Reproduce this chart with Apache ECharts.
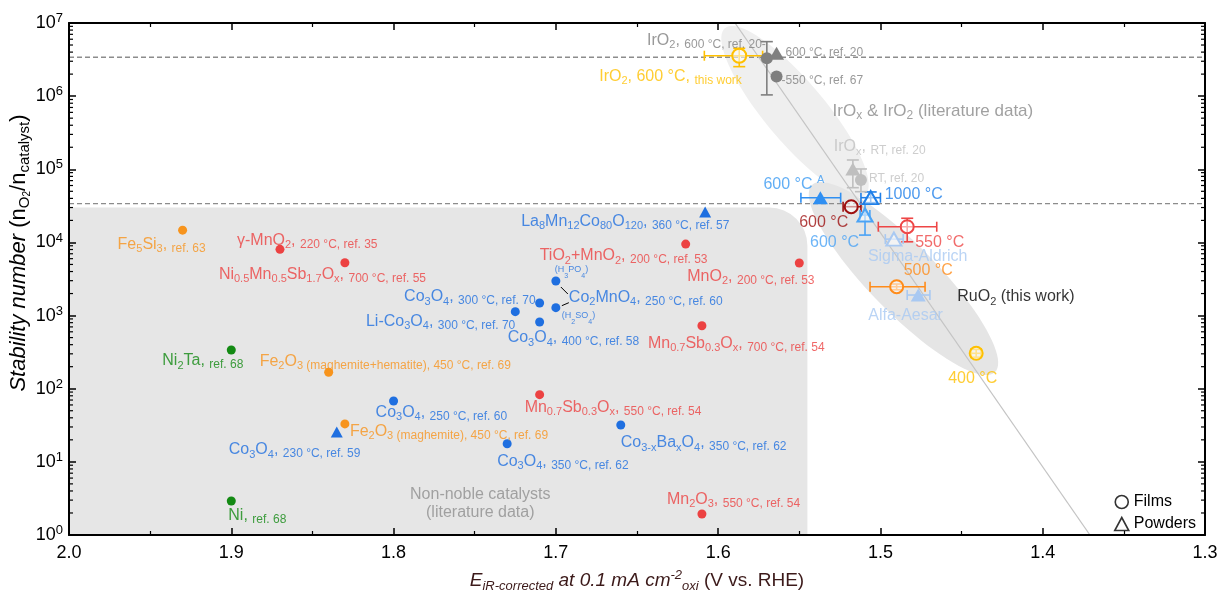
<!DOCTYPE html>
<html><head><meta charset="utf-8">
<script src="https://cdn.jsdelivr.net/npm/echarts@6/dist/echarts.min.js"></script>
<style>html,body{margin:0;padding:0;background:#fff}#c{width:1225px;height:595px}</style>
</head><body><div id="c"></div>
<script>
// ================= DATA =================
// Axis ticks
const xTicks = [2.0, 1.9, 1.8, 1.7, 1.6, 1.5, 1.4, 1.3];
const yDecades = [1, 10, 100, 1e3, 1e4, 1e5, 1e6, 1e7];

// Non-noble catalysts (literature data)
const nnNames = ['Fe5Si3','γ-MnO2','Ni0.5Mn0.5Sb1.7Ox','Ni2Ta','Fe2O3 (maghemite+hematite)','Ni','Co3O4 230 °C','Fe2O3 (maghemite)','Co3O4 250 °C','Mn0.7Sb0.3Ox 550 °C','Co3O4 350 °C','Co3-xBaxO4','Mn2O3','Co3O4 300 °C','Li-Co3O4','Co3O4 400 °C','Co2MnO4 (H3PO4)','Co2MnO4 (H2SO4)','La8Mn12Co80O120','TiO2+MnO2','MnO2 200 °C','Mn0.7Sb0.3Ox 700 °C'];
const nnFamily = ['Fe','Mn','Mn','Ni','Fe','Ni','Co','Fe','Co','Mn','Co','Co','Mn','Co','Co','Co','Co','Co','Co','Mn','Mn','Mn'];
const nnForm = ['film','film','film','film','film','film','powder','film','film','film','film','film','film','film','film','film','film','film','powder','film','film','film'];
const nnE = [1.930,1.870,1.830,1.900,1.840,1.900,1.835,1.830,1.800,1.710,1.730,1.660,1.610,1.710,1.725,1.710,1.700,1.700,1.608,1.620,1.550,1.610];
const nnS = [1.47e4,8.05e3,5.28e3,338,168,2.92,25.6,33,68,83,17.7,31.9,1.94,1486,1130,817,2970,1282,2.61e4,9.5e3,5.24e3,727];

// RuO2 (this work)
const ruNames = ['600 °C (A) powder','600 °C film','1000 °C powder','600 °C powder','550 °C film','Sigma-Aldrich','500 °C film','Alfa-Aesar','400 °C film'];
const ruForm = ['powder','film','powder','powder','film','powder','film','powder','film'];
const ruE = [1.537,1.518,1.506,1.5095,1.4835,1.4917,1.490,1.4767,1.441];
const ruS = [4.09e4,3.08e4,4.09e4,2.37e4,1.64e4,1.11e4,2.48e3,1.91e3,305];
const ruEmin = [1.5245,1.512,1.500,1.5065,1.4653,1.486,1.4725,1.4695,1.438];
const ruEmax = [1.549,1.523,1.512,1.5125,1.5013,1.497,1.5064,1.4835,1.444];
const ruSmin = [null,null,3.5e4,1.26e4,1.02e4,null,2.25e3,null,270];
const ruSmax = [null,null,4.9e4,3.35e4,2.14e4,null,2.7e3,null,345];

// IrO2 / IrOx
const irNames = ['IrO2 600 °C this work','IrO2 600 °C ref. 20 film','IrO2 600 °C ref. 20 powder','IrO2 550 °C ref. 67','IrOx RT ref. 20 powder','IrOx RT ref. 20 film'];
const irForm = ['film','film','powder','film','powder','film'];
const irE = [1.587,1.570,1.564,1.564,1.517,1.512];
const irS = [3.57e6,3.29e6,3.85e6,1.85e6,1.01e5,7.13e4];
const irEmin = [1.5726,null,null,null,null,null];
const irEmax = [1.6085,null,null,null,null,null];
const irSmin = [2.53e6,1.04e6,null,null,5.6e4,4.94e4];
const irSmax = [4.51e6,5.56e6,null,null,1.34e5,1.01e5];

// reference levels (dashed) and trend line
const refLevels = [3.4e6, 3.4e4];
const trendE = [1.5896, 1.3709];
const trendS = [1e7, 1];

// shaded regions (data space)
const nonNobleRegion = {eMin: 1.545, sMax: 3.0e4};
const irRegionEnds = [[1.5958, 8.5e6], [1.5095, 4.45e4]];
const ruRegionEnds = [[1.5422, 6.1e4], [1.4294, 169]];

// ================= STYLE =================
const F = '"Liberation Sans", Arial, Helvetica, sans-serif';
const famColor = {Fe:'#f7941d', Mn:'#ec4242', Co:'#1f6fe0', Ni:'#138a13'};
const ruColor = ['#2f8ff2','#9e1010','#1f7fe8','#4ba3f5','#ee4646','#a9c9f2','#ff8c1a','#a9c9f2','#ffc000'];
const ruFilled = [true,false,false,false,false,false,false,true,false];
const irColor = ['#ffc000','#7f7f7f','#7f7f7f','#7f7f7f','#bfbfbf','#bfbfbf'];
const irFilled = [false,true,true,true,true,true];

const RICH = {
  m:{fontSize:16, lineHeight:20, fontFamily:F},
  s:{fontSize:12, lineHeight:17, verticalAlign:'bottom', fontFamily:F},
  b:{fontSize:11, lineHeight:9, verticalAlign:'bottom', fontFamily:F},
  p:{fontSize:11, lineHeight:9, verticalAlign:'top', fontFamily:F},
  L:{fontSize:17, lineHeight:20, fontFamily:F},
  Lb:{fontSize:12, lineHeight:9, verticalAlign:'bottom', fontFamily:F},
  t:{fontSize:9, lineHeight:20, fontFamily:F},
  tb:{fontSize:7, lineHeight:15, verticalAlign:'bottom', fontFamily:F},
  g:{fontSize:16, lineHeight:18, fontFamily:F}
};

// labels: [group, index, text, dx, dy, align, color]
const co34 = (t) => '{m|Co}{b|3}{m|O}{b|4}{m|, }{s|' + t + '}';
const LABELS = [
  ['nn',0,'{m|Fe}{b|5}{m|Si}{b|3}{m|, }{s|ref. 63}',-65,14,'left'],
  ['nn',1,'{m|γ-MnO}{b|2}{m|, }{s|220 °C, ref. 35}',-43,-9,'left'],
  ['nn',2,'{m|Ni}{b|0.5}{m|Mn}{b|0.5}{m|Sb}{b|1.7}{m|O}{b|x}{m|, }{s|700 °C, ref. 55}',-126,12,'left'],
  ['nn',3,'{m|Ni}{b|2}{m|Ta, }{s|ref. 68}',-69,11,'left'],
  ['nn',4,'{m|Fe}{b|2}{m|O}{b|3}{s| (maghemite+hematite), 450 °C, ref. 69}',-69,-11,'left'],
  ['nn',5,'{m|Ni, }{s|ref. 68}',-3,15,'left'],
  ['nn',6,co34('230 °C, ref. 59'),-108,18,'left'],
  ['nn',7,'{m|Fe}{b|2}{m|O}{b|3}{s| (maghemite), 450 °C, ref. 69}',5,8,'left'],
  ['nn',8,co34('250 °C, ref. 60'),-18,12,'left'],
  ['nn',9,'{m|Mn}{b|0.7}{m|Sb}{b|0.3}{m|O}{b|x}{m|, }{s|550 °C, ref. 54}',-15,13,'left'],
  ['nn',10,co34('350 °C, ref. 62'),-10,18,'left'],
  ['nn',11,'{m|Co}{b|3-x}{m|Ba}{b|x}{m|O}{b|4}{m|, }{s|350 °C, ref. 62}',0,18,'left'],
  ['nn',12,'{m|Mn}{b|2}{m|O}{b|3}{m|, }{s|550 °C, ref. 54}',-35,-14,'left'],
  ['nn',13,co34('300 °C, ref. 70'),-4,-6,'right'],
  ['nn',14,'{m|Li-Co}{b|3}{m|O}{b|4}{m|, }{s|300 °C, ref. 70}',0,10,'right'],
  ['nn',15,co34('400 °C, ref. 58'),-32,16,'left'],
  ['nn',16,'{t|(H}{tb|3}{t|PO}{tb|4}{t|)}',-1,-11,'left'],
  ['nn',17,'{t|(H}{tb|2}{t|SO}{tb|4}{t|)}',6,8,'left'],
  ['nn',17,'{m|Co}{b|2}{m|MnO}{b|4}{m|, }{s|250 °C, ref. 60}',13,-10,'left'],
  ['nn',18,'{m|La}{b|8}{m|Mn}{b|12}{m|Co}{b|80}{m|O}{b|120}{m|, }{s|360 °C, ref. 57}',-184,10,'left'],
  ['nn',19,'{m|TiO}{b|2}{m|+MnO}{b|2}{m|, }{s|200 °C, ref. 53}',-146,12,'left'],
  ['nn',20,'{m|MnO}{b|2}{m|, }{s|200 °C, ref. 53}',-112,14,'left'],
  ['nn',21,'{m|Mn}{b|0.7}{m|Sb}{b|0.3}{m|O}{b|x}{m|, }{s|700 °C, ref. 54}',-54,18,'left'],
  ['nn',5,'{g|Non-noble catalysts}\n{g|(literature data)}',249,3,'center','#8f8f8f'],
  ['ru',0,'{m|600 °C }{p|A}',-57,-13,'left','#3a9af3'],
  ['ru',2,'{m|1000 °C}',14,-3,'left','#1f80ea'],
  ['ru',1,'{m|600 °C}',-52,16,'left','#9e1010'],
  ['ru',3,'{m|600 °C}',-55,28,'left','#4aa3f5'],
  ['ru',4,'{m|550 °C}',8,16,'left','#ee4646'],
  ['ru',5,'{m|Sigma-Aldrich}',-26,17,'left','#a9c9f2'],
  ['ru',6,'{m|500 °C}',7,-16,'left','#ff8c1a'],
  ['ru',7,'{m|Alfa-Aesar}',-50,21,'left','#a9c9f2'],
  ['ru',8,'{m|400 °C}',-28,25,'left','#ffc000'],
  ['ru',7,'{m|RuO}{b|2}{m| (this work)}',39,2,'left','#000000'],
  ['ir',1,'{m|IrO}{b|2}{m|, }{s|600 °C, ref. 20-}',-1,-18,'right','#808080'],
  ['ir',2,'{s|600 °C, ref. 20}',9,-3,'left','#808080'],
  ['ir',3,'{s|-550 °C, ref. 67}',5,2,'left','#808080'],
  ['ir',0,'{m|IrO}{b|2}{m|, 600 °C, }{s|this work}',-140,21,'left','#ffc000'],
  ['ir',3,'{L|IrO}{Lb|x}{L| & IrO}{Lb|2}{L| (literature data)}',56,35,'left','#8a8a8a'],
  ['ir',4,'{m|IrO}{b|x}{m|, }{s|RT, ref. 20}',-19,-22,'left','#c0c0c0'],
  ['ir',5,'{s|RT, ref. 20}',8,-4,'left','#c0c0c0']
];

// ================= BUILD =================
const groups = {
  nn: {E: nnE, S: nnS},
  ru: {E: ruE, S: ruS},
  ir: {E: irE, S: irS}
};

const openFill = 'rgba(255,255,255,0.55)';
const nnData = nnE.map((e, i) => ({
  name: nnNames[i], value: [e, nnS[i]],
  symbol: nnForm[i] === 'powder' ? 'triangle' : 'circle',
  symbolSize: nnForm[i] === 'powder' ? [12, 11] : 9,
  itemStyle: {color: famColor[nnFamily[i]], opacity: 1}
}));
const ruData = ruE.map((e, i) => ({
  name: ruNames[i], value: [e, ruS[i]],
  symbol: ruForm[i] === 'powder' ? 'triangle' : 'circle',
  symbolSize: ruForm[i] === 'powder' ? [15, 13] : 13,
  itemStyle: ruFilled[i] ? {color: ruColor[i], opacity: 1} : {color: openFill, borderColor: ruColor[i], borderWidth: 2, opacity: 1}
}));
const irData = irE.map((e, i) => ({
  name: irNames[i], value: [e, irS[i]],
  symbol: irForm[i] === 'powder' ? 'triangle' : 'circle',
  symbolSize: irForm[i] === 'powder' ? [15, 13] : (irFilled[i] ? 12 : 14),
  itemStyle: irFilled[i] ? {color: irColor[i], opacity: 1} : {color: openFill, borderColor: irColor[i], borderWidth: 2, opacity: 1}
}));

const errData = [], errColor = [];
ruE.forEach((e, i) => {
  errData.push([e, ruS[i], ruEmin[i] ?? e, ruEmax[i] ?? e, ruSmin[i] ?? ruS[i], ruSmax[i] ?? ruS[i]]);
  errColor.push(ruColor[i]);
});
irE.forEach((e, i) => {
  errData.push([e, irS[i], irEmin[i] ?? e, irEmax[i] ?? e, irSmin[i] ?? irS[i], irSmax[i] ?? irS[i]]);
  errColor.push(irColor[i]);
});

const labelData = LABELS.map(l => {
  const g = groups[l[0]];
  const color = l[6] || famColor[nnFamily[l[1]]];
  return {
    value: [g.E[l[1]], g.S[l[1]]],
    label: {position: [l[3] + 0.5, l[4] + 0.5], align: l[5], verticalAlign: 'middle', color: color}
  };
});

const yMinor = [];
for (let k = 0; k < 7; k++) for (let m = 2; m <= 9; m++) yMinor.push([1.3, m * Math.pow(10, k)]);

function ellipsePoints(api, ends, halfW) {
  const a = api.coord(ends[0]), b = api.coord(ends[1]);
  const cx = (a[0] + b[0]) / 2, cy = (a[1] + b[1]) / 2;
  const dx = b[0] - a[0], dy = b[1] - a[1];
  const len = Math.sqrt(dx * dx + dy * dy), ux = dx / len, uy = dy / len;
  const A = len / 2, pts = [];
  for (let k = 0; k < 90; k++) {
    const t = k / 90 * Math.PI * 2;
    const c = Math.cos(t) * A, s = Math.sin(t) * halfW;
    pts.push([cx + c * ux - s * uy, cy + c * uy + s * ux]);
  }
  return pts;
}

const chart = echarts.init(document.getElementById('c'), null, {renderer: 'canvas'});
const axisCommonX = {
  type: 'value', min: 1.3, max: 2.0, interval: 0.1, inverse: true, z: 5,
  axisLine: {show: true, onZero: false, lineStyle: {color: '#000', width: 2}},
  axisTick: {show: true, inside: true, length: 7, lineStyle: {color: '#000', width: 1.5}},
  minorTick: {show: true, splitNumber: 2, length: 4, lineStyle: {color: '#000', width: 1.2}},
  splitLine: {show: false}
};
const axisCommonY = {
  type: 'log', logBase: 10, min: 1, max: 1e7, splitNumber: 7, z: 5,
  axisLine: {show: true, onZero: false, lineStyle: {color: '#000', width: 2}},
  axisTick: {show: true, inside: true, length: 7, lineStyle: {color: '#000', width: 1.5}},
  splitLine: {show: false}
};

const option = {
  animation: false,
  textStyle: {fontFamily: F},
  grid: {left: 69, right: 20, top: 23, bottom: 60, containLabel: false, outerBoundsMode: 'none'},
  legend: {
    orient: 'vertical', right: 24, bottom: 58, itemWidth: 14, itemHeight: 13, itemGap: 6,
    selectedMode: false,
    textStyle: {fontSize: 16, color: '#000', fontFamily: F},
    data: [
      {name: 'Films', icon: 'circle', itemStyle: {color: '#fff', borderColor: '#000', borderWidth: 1.6}},
      {name: 'Powders', icon: 'triangle', itemStyle: {color: '#fff', borderColor: '#000', borderWidth: 1.6}}
    ]
  },
  xAxis: [
    Object.assign({}, axisCommonX, {
      position: 'bottom',
      axisLabel: {fontSize: 18, color: '#000', margin: 9, fontFamily: F,
        formatter: v => { const t = xTicks.find(x => Math.abs(x - v) < 1e-6); return (t !== undefined ? t : v).toFixed(1); }},
      name: '{i|E}{is|iR-corrected}{i| at 0.1 mA cm}{ip|-2}{is|oxi}{n| (V vs. RHE)}',
      nameLocation: 'middle', nameGap: 34,
      nameTextStyle: {color: '#3c1a1a', rich: {
        i: {fontSize: 19, fontStyle: 'italic', lineHeight: 24, fontFamily: F, color: '#3c1a1a'},
        is: {fontSize: 13, fontStyle: 'italic', lineHeight: 11, verticalAlign: 'bottom', fontFamily: F, color: '#3c1a1a'},
        ip: {fontSize: 13, fontStyle: 'italic', lineHeight: 10, verticalAlign: 'top', fontFamily: F, color: '#3c1a1a'},
        n: {fontSize: 19, lineHeight: 24, fontFamily: F, color: '#3c1a1a'}
      }}
    }),
    Object.assign({}, axisCommonX, {position: 'top', axisLabel: {show: false}})
  ],
  yAxis: [
    Object.assign({}, axisCommonY, {
      position: 'left',
      axisLabel: {margin: 6, formatter: v => '{a|10}{e|' + Math.round(Math.log10(v)) + '}',
        rich: {a: {fontSize: 18, lineHeight: 22, color: '#000', fontFamily: F},
               e: {fontSize: 13, lineHeight: 10, verticalAlign: 'top', color: '#000', fontFamily: F}}},
      name: '{i|Stability number }{n|(n}{b|O}{bb|2}{n|/n}{b|catalyst}{n|)}',
      nameLocation: 'middle', nameRotate: 90, nameGap: 37, nameMoveOverlap: false,
      nameTextStyle: {color: '#000', padding: [0, 0, 0, 52], rich: {
        i: {fontSize: 22, fontStyle: 'italic', lineHeight: 26, fontFamily: F, color: '#000'},
        n: {fontSize: 22, lineHeight: 26, fontFamily: F, color: '#000'},
        b: {fontSize: 15, lineHeight: 12, verticalAlign: 'bottom', fontFamily: F, color: '#000'},
        bb: {fontSize: 10, lineHeight: 7, verticalAlign: 'bottom', fontFamily: F, color: '#000'}
      }}
    }),
    Object.assign({}, axisCommonY, {position: 'right', axisLabel: {show: false}})
  ],
  series: [
    { // shaded regions
      type: 'custom', z: 1, silent: true, clip: true,
      data: [[nonNobleRegion.eMin, nonNobleRegion.sMax]],
      renderItem: (params, api) => {
        const cs = params.coordSys;
        const corner = api.coord([nonNobleRegion.eMin, nonNobleRegion.sMax]);
        const bottom = cs.y + cs.height;
        return {type: 'group', children: [
          {type: 'rect', shape: {x: cs.x, y: corner[1], width: corner[0] - cs.x, height: bottom - corner[1], r: [0, 38, 0, 0]},
           style: {fill: '#e6e6e6'}},
          {type: 'polygon', shape: {points: ellipsePoints(api, irRegionEnds, 30)}, style: {fill: '#efefef'}},
          {type: 'polygon', shape: {points: ellipsePoints(api, ruRegionEnds, 34)}, style: {fill: '#e5e5e5'}}
        ]};
      }
    },
    { // y minor ticks (left & right)
      type: 'custom', z: 6, silent: true, data: yMinor,
      renderItem: (params, api) => {
        const cs = params.coordSys;
        const y = api.coord([api.value(0), api.value(1)])[1];
        const st = {stroke: '#000', lineWidth: 1.2};
        return {type: 'group', children: [
          {type: 'line', shape: {x1: cs.x, y1: y, x2: cs.x + 4, y2: y}, style: st},
          {type: 'line', shape: {x1: cs.x + cs.width - 4, y1: y, x2: cs.x + cs.width, y2: y}, style: st}
        ]};
      }
    },
    ...refLevels.map(v => ({
      type: 'line', z: 2, silent: true, symbol: 'none',
      data: [[2.0, v], [1.3, v]],
      lineStyle: {color: '#8c8c8c', width: 1.3, type: [5, 3]}
    })),
    {
      type: 'line', z: 2, silent: true, symbol: 'none',
      data: trendE.map((e, i) => [e, trendS[i]]),
      lineStyle: {color: '#c4c4c4', width: 1.3}
    },
    { // error bars
      type: 'custom', z: 3, silent: true, data: errData,
      renderItem: (params, api) => {
        const i = params.dataIndex, col = errColor[i];
        const c = api.coord([api.value(0), api.value(1)]);
        const xl = api.coord([api.value(2), api.value(1)])[0];
        const xh = api.coord([api.value(3), api.value(1)])[0];
        const yl = api.coord([api.value(0), api.value(4)])[1];
        const yh = api.coord([api.value(0), api.value(5)])[1];
        const st = {stroke: col, lineWidth: 1.6};
        const ch = [];
        if (Math.abs(xh - xl) > 0.5) {
          ch.push({type: 'line', shape: {x1: xl, y1: c[1], x2: xh, y2: c[1]}, style: st});
          ch.push({type: 'line', shape: {x1: xl, y1: c[1] - 5, x2: xl, y2: c[1] + 5}, style: st});
          ch.push({type: 'line', shape: {x1: xh, y1: c[1] - 5, x2: xh, y2: c[1] + 5}, style: st});
        }
        if (Math.abs(yh - yl) > 0.5) {
          ch.push({type: 'line', shape: {x1: c[0], y1: yl, x2: c[0], y2: yh}, style: st});
          ch.push({type: 'line', shape: {x1: c[0] - 6, y1: yl, x2: c[0] + 6, y2: yl}, style: st});
          ch.push({type: 'line', shape: {x1: c[0] - 6, y1: yh, x2: c[0] + 6, y2: yh}, style: st});
        }
        return {type: 'group', children: ch};
      }
    },
    { // Co2MnO4 connector lines
      type: 'custom', z: 3, silent: true,
      data: [[nnE[16], nnS[16]], [nnE[17], nnS[17]]],
      renderItem: (params, api) => {
        const p = api.coord([api.value(0), api.value(1)]);
        const seg = params.dataIndex === 0 ? [5, 6, 12, 13] : [6, -2, 13, -5];
        return {type: 'line', shape: {x1: p[0] + seg[0], y1: p[1] + seg[1], x2: p[0] + seg[2], y2: p[1] + seg[3]},
                style: {stroke: '#000', lineWidth: 1}};
      }
    },
    {type: 'scatter', name: 'Non-noble', z: 4, itemStyle: {opacity: 1}, data: nnData},
    {type: 'scatter', name: 'RuO2', z: 4, itemStyle: {opacity: 1}, data: ruData},
    {type: 'scatter', name: 'IrO2', z: 4, itemStyle: {opacity: 1}, data: irData},
    { // text labels anchored to points
      type: 'scatter', z: 7, silent: true, symbol: 'circle', symbolSize: 1,
      itemStyle: {color: 'rgba(0,0,0,0)'},
      label: {show: true, verticalAlign: 'middle', fontFamily: F, rich: RICH,
              formatter: p => LABELS[p.dataIndex][2]},
      data: labelData
    },
    {type: 'scatter', name: 'Films', symbol: 'circle', data: [], itemStyle: {color: '#fff', borderColor: '#000', borderWidth: 1.6}},
    {type: 'scatter', name: 'Powders', symbol: 'triangle', data: [], itemStyle: {color: '#fff', borderColor: '#000', borderWidth: 1.6}}
  ]
};
chart.setOption(option);
</script>
</body></html>
